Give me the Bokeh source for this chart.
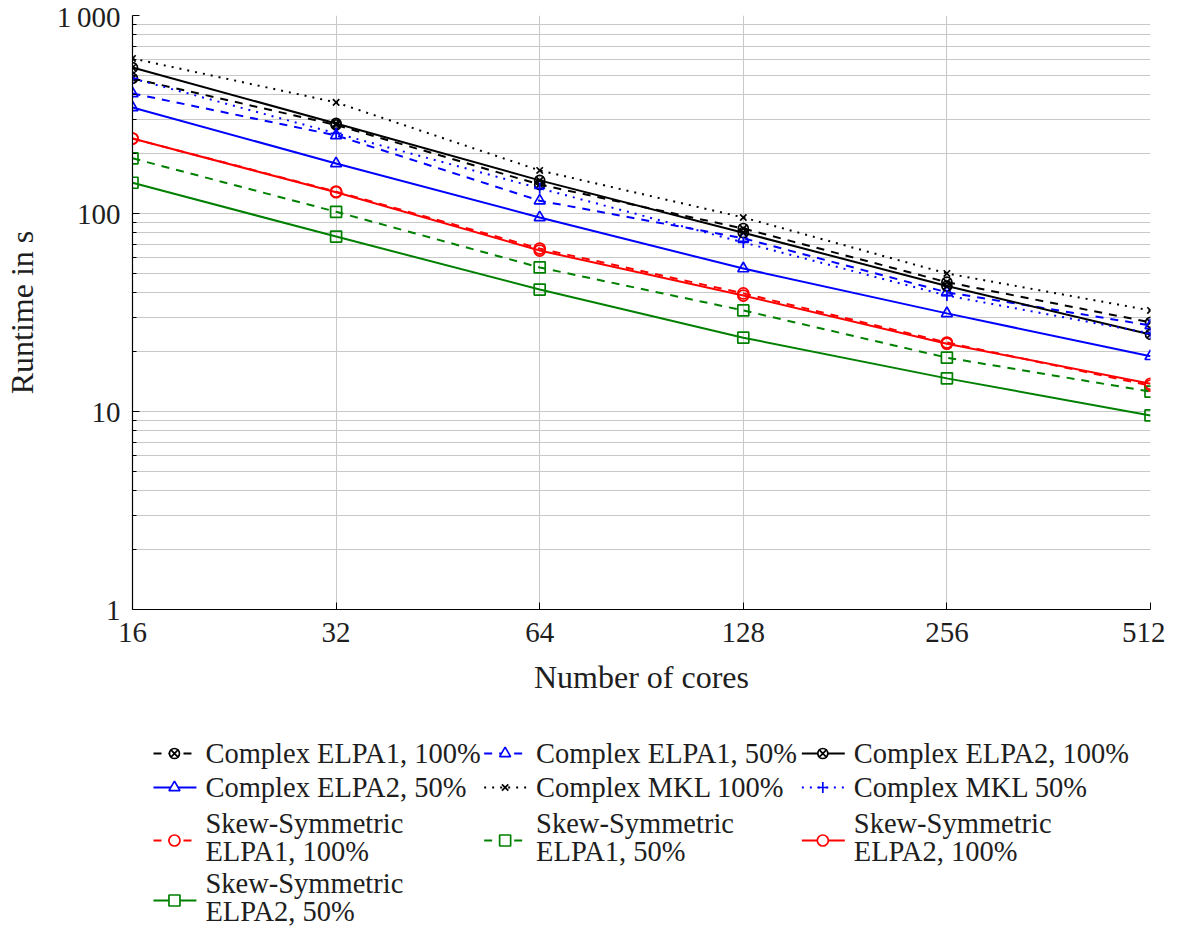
from bokeh.plotting import figure
from bokeh.models import FixedTicker, Range1d
from bokeh.layouts import column
from bokeh.embed import file_html
from bokeh.resources import INLINE
from bokeh.core.properties import value

# ---------------- data ----------------
cores = [16, 32, 64, 128, 256, 512]
x_tick_labels = ["16", "32", "64", "128", "256", "512"]
y_ticks = [1, 10, 100, 1000]
y_tick_labels = ["1", "10", "100", "1\u2009000"]

complex_elpa1_100 = [481, 280, 140, 84, 45, 28.2]
complex_elpa1_50 = [404, 248, 116, 75, 40, 27.2]
complex_elpa2_100 = [546, 285, 147, 80, 43, 24.5]
complex_elpa2_50 = [343, 179, 95.5, 52.7, 31.3, 19.0]
complex_mkl_100 = [607, 364, 165, 95.5, 49.8, 32.4]
complex_mkl_50 = [481, 254, 134, 71.4, 38.5, 24.8]
skew_elpa1_100 = [239, 129, 66.5, 39.5, 22.3, 13.5]
skew_elpa1_50 = [190, 102, 53.4, 32.4, 18.7, 12.6]
skew_elpa2_100 = [239, 128, 65, 38.5, 22.0, 13.8]
skew_elpa2_50 = [143, 76.5, 41.3, 23.6, 14.7, 9.55]

labels = [
    ["Complex ELPA1, 100%"],
    ["Complex ELPA1, 50%"],
    ["Complex ELPA2, 100%"],
    ["Complex ELPA2, 50%"],
    ["Complex MKL 100%"],
    ["Complex MKL 50%"],
    ["Skew-Symmetric", "ELPA1, 100%"],
    ["Skew-Symmetric", "ELPA1, 50%"],
    ["Skew-Symmetric", "ELPA2, 100%"],
    ["Skew-Symmetric", "ELPA2, 50%"],
]
series = [complex_elpa1_100, complex_elpa1_50, complex_elpa2_100, complex_elpa2_50,
          complex_mkl_100, complex_mkl_50, skew_elpa1_100, skew_elpa1_50,
          skew_elpa2_100, skew_elpa2_50]

BLACK, BLUE, RED, GREEN = "#000000", "#0000ff", "#ff0000", "#008000"
DASHED, DOTTED, SOLID = "8 7", "2 6", "solid"
styles = [
    (BLACK, DASHED, "circle_x", 10),
    (BLUE, DASHED, "triangle", 11),
    (BLACK, SOLID, "circle_x", 10),
    (BLUE, SOLID, "triangle", 11),
    (BLACK, DOTTED, "x", 9),
    (BLUE, DOTTED, "cross", 11),
    (RED, DASHED, "circle", 11),
    (GREEN, DASHED, "square", 11),
    (RED, SOLID, "circle", 11),
    (GREEN, SOLID, "square", 11),
]

FONT = "Liberation Serif"
TXT = "#1e1e1e"

W = 1165
FL, FR = 131, 1150          # frame left / right (page px)
MAIN_H = 708

# ---------------- main plot ----------------
p = figure(width=W, height=MAIN_H, x_axis_type="log", y_axis_type="log",
           x_range=Range1d(16, 512), y_range=Range1d(1, 1000),
           output_backend="svg", toolbar_location=None,
           min_border_left=FL, min_border_right=W - FR, min_border_top=15,
           min_border_bottom=99)
p.outline_line_color = None
p.background_fill_color = "white"

p.xaxis.ticker = FixedTicker(ticks=cores)
p.xaxis.major_label_overrides = {c: l for c, l in zip(cores, x_tick_labels)}
minor = [m * 10 ** e for e in range(3) for m in range(2, 10)]
p.yaxis.ticker = FixedTicker(ticks=y_ticks, minor_ticks=minor)
p.yaxis.major_label_overrides = {t: l for t, l in zip(y_ticks, y_tick_labels)}

for ax in (p.xaxis, p.yaxis):
    ax.major_tick_in = 7
    ax.major_tick_out = 0
    ax.minor_tick_in = 4
    ax.minor_tick_out = 0
    ax.axis_line_color = "black"
    ax.axis_line_width = 1.2
    ax.major_tick_line_color = "black"
    ax.minor_tick_line_color = "black"
    ax.major_label_text_font = FONT
    ax.major_label_text_font_size = "29px"
    ax.major_label_text_color = TXT
    ax.axis_label_text_font = FONT
    ax.axis_label_text_font_size = "32px"
    ax.axis_label_text_font_style = "normal"
    ax.axis_label_text_color = TXT

p.xaxis.minor_tick_line_color = None
p.xaxis.major_label_standoff = 13
p.xaxis.axis_label = "Number of cores"
p.xaxis.axis_label_standoff = 14
p.yaxis.major_label_standoff = 12
p.yaxis.axis_label = "Runtime in s"
p.yaxis.axis_label_standoff = 14

p.xgrid.grid_line_color = "#c8c8c8"
p.ygrid.grid_line_color = "#c8c8c8"
p.ygrid.minor_grid_line_color = "#c8c8c8"
p.xgrid.grid_line_width = 1
p.ygrid.grid_line_width = 1

for vals, (col, dash, mk, sz) in zip(series, styles):
    p.line(cores, vals, line_color=col, line_width=2, line_dash=dash)
    p.scatter(cores, vals, marker=mk, size=sz, line_color=col, line_width=1.7,
              fill_color=None)

# ---------------- legend (page-pixel frame) ----------------
LH = 932 - MAIN_H
lg = figure(width=W, height=LH, x_range=Range1d(FL, FR), y_range=Range1d(932, MAIN_H),
            output_backend="svg", toolbar_location=None,
            min_border_left=FL, min_border_right=W - FR, min_border_top=0,
            min_border_bottom=0, x_axis_type=None, y_axis_type=None)
lg.grid.visible = False
lg.outline_line_color = None

col_text_x = [204, 535, 853]
row_y = [753, 787, 837, 897]
line_gap = 28
for i, (lab, (col, dash, mk, sz)) in enumerate(zip(labels, styles)):
    r, c = divmod(i, 3)
    tx = col_text_x[c]
    cy = row_y[r]
    my = cy + (3 if len(lab) > 1 else 0)
    lg.line([tx - 52, tx - 9], [my, my], line_color=col, line_width=2, line_dash=dash)
    lg.scatter([tx - 31], [my], marker=mk, size=sz, line_color=col, line_width=1.7,
               fill_color="white")
    n = len(lab)
    for k, t in enumerate(lab):
        yy = cy + (k - (n - 1) / 2) * line_gap
        lg.text([tx], [yy], text=[t], text_font=value(FONT), text_font_size="28.5px",
                text_baseline="middle", text_align="left", text_color=TXT)

layout = column(p, lg, spacing=0)
open("out.html", "w").write(file_html(layout, INLINE))
